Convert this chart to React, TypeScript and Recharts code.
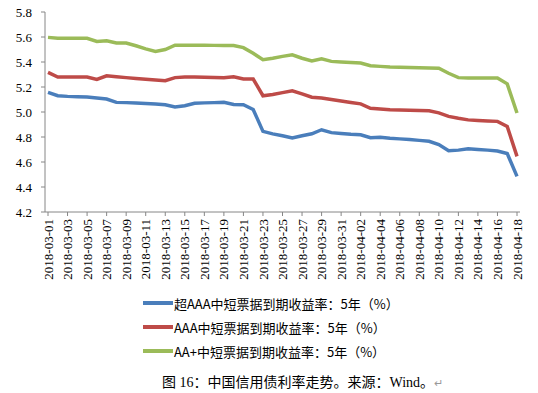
import { Legend, Line, LineChart, XAxis, YAxis } from "recharts";

const dates = [
  "2018-03-01", "2018-03-02", "2018-03-03", "2018-03-04", "2018-03-05", "2018-03-06", "2018-03-07",
  "2018-03-08", "2018-03-09", "2018-03-10", "2018-03-11", "2018-03-12", "2018-03-13", "2018-03-14",
  "2018-03-15", "2018-03-16", "2018-03-17", "2018-03-18", "2018-03-19", "2018-03-20", "2018-03-21",
  "2018-03-22", "2018-03-23", "2018-03-24", "2018-03-25", "2018-03-26", "2018-03-27", "2018-03-28",
  "2018-03-29", "2018-03-30", "2018-03-31", "2018-04-01", "2018-04-02", "2018-04-03", "2018-04-04",
  "2018-04-05", "2018-04-06", "2018-04-07", "2018-04-08", "2018-04-09", "2018-04-10", "2018-04-11",
  "2018-04-12", "2018-04-13", "2018-04-14", "2018-04-15", "2018-04-16", "2018-04-17", "2018-04-18",
];

// 超AAA
const superAAA = [
  5.157, 5.13, 5.125, 5.122, 5.12, 5.112, 5.104, 5.077, 5.075, 5.072, 5.068, 5.064, 5.058, 5.04,
  5.05, 5.07, 5.073, 5.075, 5.077, 5.06, 5.058, 5.02, 4.845, 4.825, 4.81, 4.792, 4.81, 4.826,
  4.858, 4.835, 4.828, 4.822, 4.818, 4.795, 4.797, 4.79, 4.785, 4.78, 4.773, 4.766, 4.74, 4.69,
  4.695, 4.705, 4.7, 4.695, 4.688, 4.668, 4.485,
];

// AAA
const aaa = [
  5.317, 5.28, 5.28, 5.28, 5.28, 5.26, 5.29, 5.282, 5.275, 5.268, 5.262, 5.256, 5.25, 5.275,
  5.28, 5.28, 5.278, 5.276, 5.274, 5.282, 5.264, 5.264, 5.13, 5.14, 5.155, 5.17, 5.145, 5.118,
  5.112, 5.1, 5.088, 5.076, 5.065, 5.03, 5.024, 5.018, 5.016, 5.014, 5.012, 5.01, 4.993, 4.965,
  4.95, 4.937, 4.932, 4.928, 4.925, 4.885, 4.645,
];

// AA+
const aaPlus = [
  5.597, 5.59, 5.59, 5.59, 5.59, 5.565, 5.57, 5.552, 5.552, 5.53, 5.505, 5.485, 5.5, 5.535,
  5.535, 5.534, 5.534, 5.533, 5.533, 5.532, 5.515, 5.47, 5.418, 5.43, 5.445, 5.458, 5.43, 5.408,
  5.426, 5.405, 5.4, 5.396, 5.392, 5.37, 5.365, 5.36, 5.358, 5.356, 5.354, 5.352, 5.35, 5.31,
  5.275, 5.272, 5.272, 5.272, 5.272, 5.225, 4.992,
];

const yTicks = [4.2, 4.4, 4.6, 4.8, 5.0, 5.2, 5.4, 5.6, 5.8];

const seriesNames = [
  "超AAA中短票据到期收益率：5年（%）",
  "AAA中短票据到期收益率：5年（%）",
  "AA+中短票据到期收益率：5年（%）",
];
const seriesColors = ["#4A7EBB", "#BE4B48", "#9BBB59"];

const data = dates.map((date, i) => ({
  date,
  superAAA: superAAA[i],
  aaa: aaa[i],
  aaPlus: aaPlus[i],
}));

const serif = "'Liberation Serif', 'Times New Roman', serif";
const cjk = "'Noto Sans CJK SC', sans-serif";

function DateTick({ x, y, payload }: any) {
  return (
    <text
      transform={`translate(${x},${y}) rotate(-90)`}
      textAnchor="end"
      dy="0.35em"
      fontSize={13}
      fontFamily={serif}
      fill="#000"
    >
      {payload.value}
    </text>
  );
}

function LegendRows({ payload }: any) {
  const rows = [...(payload ?? [])].sort(
    (a: any, b: any) => seriesNames.indexOf(a.value) - seriesNames.indexOf(b.value)
  );
  return (
    <div>
      {rows.map((entry: any) => (
        <div
          key={entry.value}
          style={{ display: "flex", alignItems: "center", height: 24 }}
        >
          <svg width={30} height={6}>
            <line x1={0} y1={3} x2={30} y2={3} stroke={entry.color} strokeWidth={4} />
          </svg>
          <span style={{ fontFamily: cjk, fontSize: 13, color: "#000", marginLeft: 1 }}>
            {entry.value}
          </span>
        </div>
      ))}
    </div>
  );
}

export default function App() {
  return (
    <div
      style={{
        position: "absolute",
        left: 0,
        top: 0,
        width: 538,
        height: 393,
        background: "#fff",
      }}
    >
      <LineChart
        width={538}
        height={393}
        data={data}
        margin={{ top: 12, right: 18, left: 0, bottom: 111 }}
      >
        <XAxis
          dataKey="date"
          interval={1}
          height={70}
          padding={{ left: 3, right: 3 }}
          tick={<DateTick />}
          tickSize={4}
          tickMargin={3}
          stroke="#868686"
        />
        <YAxis
          width={45}
          domain={[4.2, 5.8]}
          ticks={yTicks}
          tickFormatter={(v: number) => v.toFixed(1)}
          tickSize={4}
          tickMargin={9}
          stroke="#868686"
          tick={{ fill: "#000", fontSize: 13, fontFamily: serif }}
        />
        <Legend
          layout="horizontal"
          verticalAlign="middle"
          align="center"
          content={<LegendRows />}
          wrapperStyle={{ left: 143, top: 291, width: 320, height: 72 }}
        />
        <Line
          dataKey="superAAA"
          name={seriesNames[0]}
          stroke={seriesColors[0]}
          strokeWidth={3.5}
          dot={false}
          isAnimationActive={false}
        />
        <Line
          dataKey="aaa"
          name={seriesNames[1]}
          stroke={seriesColors[1]}
          strokeWidth={3.5}
          dot={false}
          isAnimationActive={false}
        />
        <Line
          dataKey="aaPlus"
          name={seriesNames[2]}
          stroke={seriesColors[2]}
          strokeWidth={3.5}
          dot={false}
          isAnimationActive={false}
        />
      </LineChart>
      <div
        style={{
          position: "absolute",
          left: 162,
          top: 371,
          fontFamily: `${serif.split(",")[0]}, ${cjk}`,
          fontSize: 14,
          color: "#000",
          whiteSpace: "nowrap",
        }}
      >
        图 16：中国信用债利率走势。来源：Wind。<span style={{ color: "#999", fontSize: 11 }}>↵</span>
      </div>
    </div>
  );
}
